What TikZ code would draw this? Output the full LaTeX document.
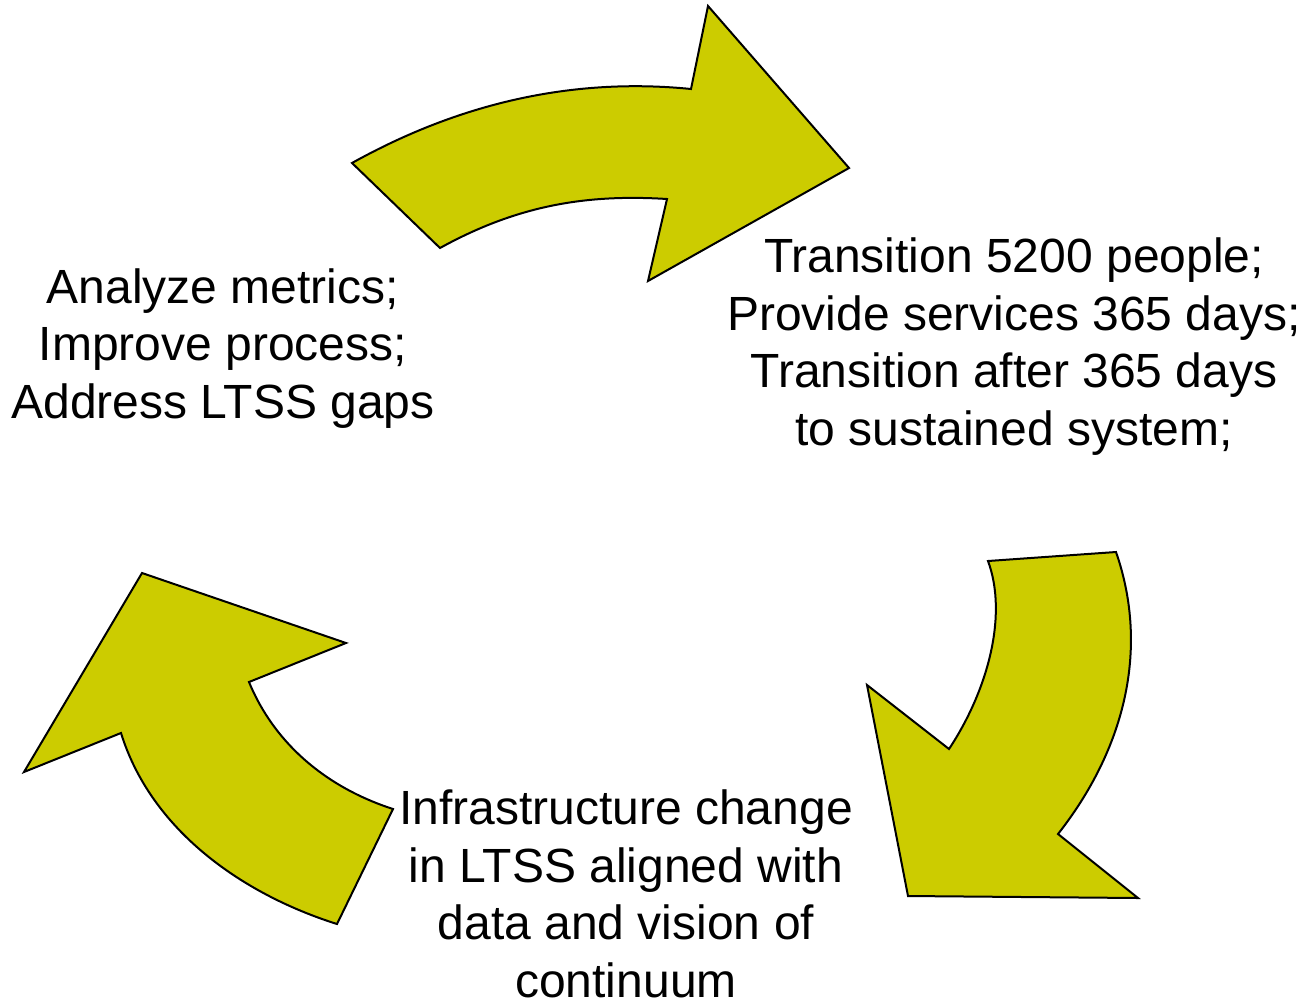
\documentclass[tikz,border=0pt]{standalone}
\usepackage{fontspec}
\setmainfont{Liberation Sans}
\usepackage{tikz}

\definecolor{arrowyellow}{HTML}{CCCC00}
\tikzset{
  cyclearrow/.style={fill=arrowyellow, draw=black, line width=1pt, line join=miter},
  steplabel/.style={anchor=base, align=center, inner sep=0pt,
    font=\fontsize{24}{28.75}\selectfont}
}

\begin{document}
\begin{tikzpicture}[x=0.5pt,y=-0.5pt]
    \useasboundingbox (0,0) rectangle (1304,1001);
    % top arrow
    \draw[cyclearrow] (352,163) .. controls (458,104) and (571,77) .. (691,89)
        -- (708,6) -- (849,168) -- (648,281) -- (667,199)
        .. controls (587,194) and (518,205) .. (440,248) -- cycle;
    % right arrow
    \draw[cyclearrow] (988,561) -- (1116,552)
        .. controls (1150,650) and (1124,750) .. (1058,834)
        -- (1138,898) -- (908,896) -- (867,685) -- (949,749)
        .. controls (988,690) and (1008,615) .. cycle;
    % left arrow
    \draw[cyclearrow] (393,809) -- (337,924)
        .. controls (242,894) and (151,830) .. (121,733)
        -- (24,772) -- (142,573) -- (346,643) -- (249,682)
        .. controls (275,745) and (328,788) .. cycle;
    % labels (base = last line)
    \node[steplabel] (transition) at (1014,445) {Transition 5200 people;\\
        Provide services 365 days;\\ Transition after 365 days\\ to sustained system;};
    \node[steplabel] (metrics) at (223,418) {Analyze metrics;\\
        Improve process;\\ Address LTSS gaps};
    \node[steplabel] (infra) at (626,997) {Infrastructure change\\
        in LTSS aligned with\\ data and vision of\\ continuum};
\end{tikzpicture}
\end{document}
